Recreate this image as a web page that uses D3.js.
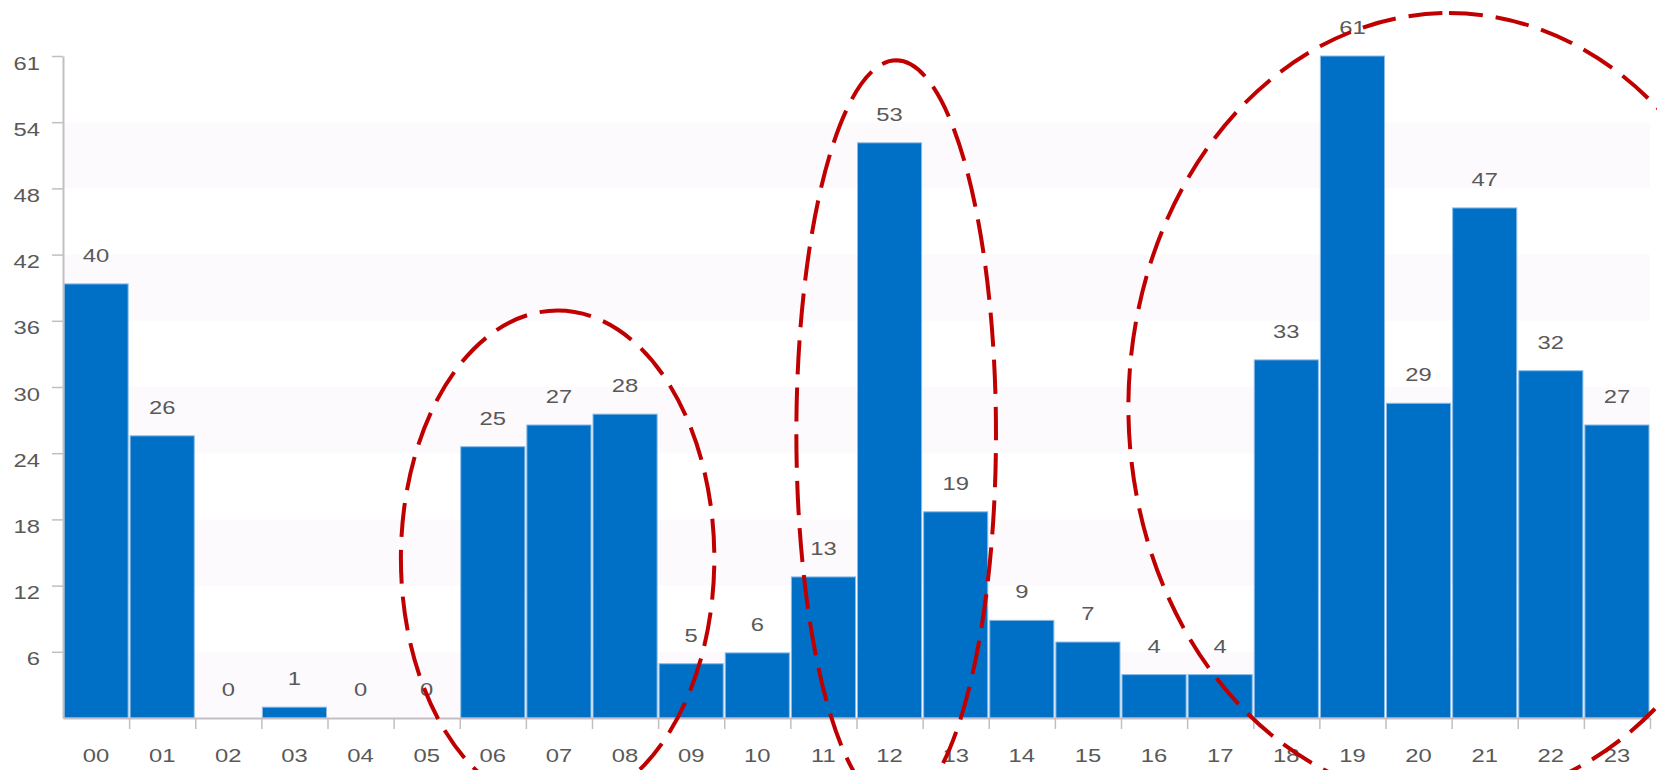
<!DOCTYPE html>
<html>
<head>
<meta charset="utf-8">
<script src="https://cdn.jsdelivr.net/npm/d3@7"></script>
<style>
  body { margin: 0; background: #fff; }
  svg { display: block; }
</style>
</head>
<body>
<svg id="chart" width="1657" height="770"></svg>
<script>
// Hourly counts
const hours = ["00","01","02","03","04","05","06","07","08","09","10","11",
               "12","13","14","15","16","17","18","19","20","21","22","23"];
const counts = [40, 26, 0, 1, 0, 0, 25, 27, 28, 5, 6, 13,
                53, 19, 9, 7, 4, 4, 33, 61, 29, 47, 32, 27];

// Value axis: ten equal steps up to the maximum, labels shown truncated
const yTickValues = [6.1, 12.2, 18.3, 24.4, 30.5, 36.6, 42.7, 48.8, 54.9, 61];
const yTickLabels = ["6", "12", "18", "24", "30", "36", "42", "48", "54", "61"];

// Highlighted groups: centre in (hour position, count), radii in (hours, counts)
const highlights = [
  { cx: 7.48,  cy: 14.7,  rx: 2.37, ry: 22.85 },
  { cx: 12.6,  cy: 26.2,  rx: 1.51, ry: 34.4  },
  { cx: 20.96, cy: 28.66, rx: 4.85, ry: 36.3  }
];

const W = 1657, H = 770;
const plot = { left: 63, right: 1650, top: 56, bottom: 718 };
const textColor = "#595959";
const axisColor = "#c4bdc4";
const font = "'Liberation Sans', Arial, sans-serif";
const fontSize = 17.5;
const stretchX = 1.36;

const rows = hours.map((h, i) => ({ hour: h, count: counts[i] }));

const svg = d3.select("#chart");

const x = d3.scaleBand().domain(hours).range([plot.left, plot.right]).padding(0);
const xPos = d3.scaleLinear().domain([0, hours.length]).range([plot.left, plot.right]);
const y = d3.scaleLinear().domain([0, yTickValues[yTickValues.length - 1]])
  .range([plot.bottom, plot.top]);

// Alternating background bands
const bounds = [0, ...yTickValues];
const bandPairs = [];
for (let i = 0; i + 1 < bounds.length; i += 2) bandPairs.push([bounds[i], bounds[i + 1]]);
svg.append("g").selectAll("rect").data(bandPairs).join("rect")
  .attr("x", plot.left)
  .attr("width", plot.right - plot.left)
  .attr("y", d => y(d[1]))
  .attr("height", d => y(d[0]) - y(d[1]))
  .attr("fill", "#fdfafd");

// Bars
svg.append("g").selectAll("rect").data(rows.filter(d => d.count > 0)).join("rect")
  .attr("x", d => x(d.hour) + 1)
  .attr("width", x.bandwidth() - 2)
  .attr("y", d => y(d.count))
  .attr("height", d => y(0) - y(d.count))
  .attr("fill", "#0070c6")
  .attr("stroke", "#8dbbe6")
  .attr("stroke-width", 1);

// Left axis
const yAxis = svg.append("g")
  .attr("transform", `translate(${plot.left},0)`)
  .call(d3.axisLeft(y).tickValues(yTickValues)
    .tickFormat((d, i) => yTickLabels[i]).tickSize(11).tickSizeOuter(0));
yAxis.select(".domain").attr("stroke", axisColor).attr("stroke-width", 2);
yAxis.selectAll(".tick line").attr("stroke", axisColor).attr("stroke-width", 1.5);
yAxis.selectAll(".tick text")
  .attr("x", null).attr("dy", null)
  .attr("transform", "translate(-23,13) scale(" + stretchX + ",1)")
  .attr("fill", textColor)
  .style("font-family", font).style("font-size", fontSize + "px");

// Bottom axis: ticks on the hour boundaries
const xAxis = svg.append("g")
  .attr("transform", `translate(0,${plot.bottom})`)
  .call(d3.axisBottom(xPos).tickValues(d3.range(1, hours.length + 1))
    .tickFormat("").tickSize(11).tickSizeOuter(0));
xAxis.select(".domain").attr("stroke", axisColor).attr("stroke-width", 2);
xAxis.selectAll(".tick line").attr("stroke", axisColor).attr("stroke-width", 1.5);

// Hour labels
svg.append("g").selectAll("text").data(hours).join("text")
  .attr("transform", d => `translate(${x(d) + x.bandwidth() / 2},762) scale(${stretchX},1)`)
  .attr("text-anchor", "middle")
  .attr("fill", textColor)
  .style("font-family", font).style("font-size", fontSize + "px")
  .text(d => d);

// Value labels
svg.append("g").selectAll("text").data(rows).join("text")
  .attr("transform", d => `translate(${x(d.hour) + x.bandwidth() / 2},${y(d.count) - 22}) scale(${stretchX},1)`)
  .attr("text-anchor", "middle")
  .attr("fill", textColor)
  .style("font-family", font).style("font-size", fontSize + "px")
  .text(d => d.count);

// Dashed ellipses around the highlighted groups, drawn from the top clockwise
svg.append("g").selectAll("path").data(highlights).join("path")
  .attr("d", h => {
    const cx = xPos(h.cx), cy = y(h.cy);
    const rx = xPos(h.cx + h.rx) - cx, ry = cy - y(h.cy + h.ry);
    return `M${cx},${cy - ry} A${rx},${ry} 0 0 1 ${cx},${cy + ry} A${rx},${ry} 0 0 1 ${cx},${cy - ry}`;
  })
  .attr("fill", "none")
  .attr("stroke", "#c00000")
  .attr("stroke-width", 4)
  .attr("stroke-dasharray", "34 13");
</script>
</body>
</html>
